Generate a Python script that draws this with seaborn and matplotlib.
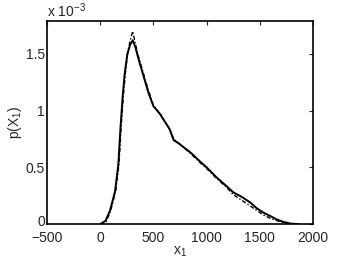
import seaborn as sns
import matplotlib.pyplot as plt
import matplotlib.transforms as mtransforms
import pandas as pd
from matplotlib.ticker import FuncFormatter

# estimated density curves (units of 1e-3)
x_solid = [0, 50, 92, 139, 170, 190, 210, 230, 255, 280, 305, 330, 358, 405,
           452, 499, 562, 609, 650, 690, 740, 780, 850, 940, 1000, 1095, 1180,
           1250, 1330, 1410, 1470, 1535, 1600, 1660, 1720, 1785, 1860]
p_solid = [0.0, 0.03, 0.12, 0.29, 0.53, 0.85, 1.12, 1.33, 1.50, 1.58, 1.62,
           1.56, 1.46, 1.31, 1.16, 1.04, 0.97, 0.90, 0.84, 0.74, 0.71, 0.68,
           0.63, 0.55, 0.50, 0.41, 0.34, 0.28, 0.24, 0.19, 0.14, 0.10, 0.07,
           0.04, 0.02, 0.005, 0.0]
x_dash = [0, 55, 98, 145, 176, 196, 216, 236, 258, 282, 305, 330, 358, 405,
          452, 499, 562, 609, 650, 690, 740, 780, 850, 940, 1000, 1095, 1180,
          1250, 1330, 1410, 1470, 1535, 1600, 1660, 1720, 1785, 1860]
p_dash = [0.0, 0.02, 0.12, 0.29, 0.53, 0.85, 1.12, 1.33, 1.52, 1.62, 1.70,
          1.59, 1.48, 1.33, 1.18, 1.05, 0.97, 0.90, 0.84, 0.75, 0.71, 0.68,
          0.62, 0.54, 0.49, 0.40, 0.33, 0.26, 0.21, 0.16, 0.12, 0.08, 0.05,
          0.03, 0.015, 0.004, 0.0]

df = pd.concat([
    pd.DataFrame({"x": x_solid, "p": [v * 1e-3 for v in p_solid], "s": "a"}),
    pd.DataFrame({"x": x_dash, "p": [v * 1e-3 for v in p_dash], "s": "b"}),
])

sns.set_style("white")
plt.rcParams["font.family"] = ["Liberation Sans", "DejaVu Sans"]
plt.rcParams["mathtext.fontset"] = "custom"
plt.rcParams["mathtext.rm"] = "Liberation Sans"
plt.rcParams["mathtext.it"] = "Liberation Sans"

fig = plt.figure(figsize=(3.46, 2.6), dpi=100)
ax = fig.add_axes([0.136, 0.138, 0.769, 0.781])

sns.lineplot(data=df[df.s == "b"], x="x", y="p", ax=ax, color="black",
             lw=1.0, linestyle=(0, (3, 1.5, 1, 1.5)), legend=False)
sns.lineplot(data=df[df.s == "a"], x="x", y="p", ax=ax, color="black",
             lw=1.4, legend=False)

ax.set_xlim(-500, 2000)
ax.set_ylim(0, 1.79e-3)
ax.set_xticks([-500, 0, 500, 1000, 1500, 2000])
ax.set_yticks([0, 0.5e-3, 1e-3, 1.5e-3])
ax.yaxis.set_major_formatter(FuncFormatter(lambda v, pos: f"{v * 1e3:g}"))
ax.tick_params(direction="in", length=3, width=0.8, labelsize=10,
               top=True, right=True)
ax.tick_params(axis="x", pad=5)
ax.tick_params(axis="y", pad=1.5)
ax.set_xticklabels(["\u2212500", "0", "500", "1000", "1500", "2000"])
for s in ax.spines.values():
    s.set_linewidth(1.2)
    s.set_color("black")

# nudge the "0" on the y axis up a little, like the original
lab0 = ax.get_yticklabels()[0]
lab0.set_transform(lab0.get_transform() +
                   mtransforms.ScaledTranslation(0, 2.5 / 72, fig.dpi_scale_trans))

ax.set_xlabel("x$_1$", fontsize=10, labelpad=0)
ax.set_ylabel("p(X$_1$)", fontsize=10, labelpad=1)
ax.text(0.0, 1.005, "x 10$^{-3}$", transform=ax.transAxes, fontsize=10,
        ha="left", va="bottom")

fig.savefig("out.png", dpi=100)
